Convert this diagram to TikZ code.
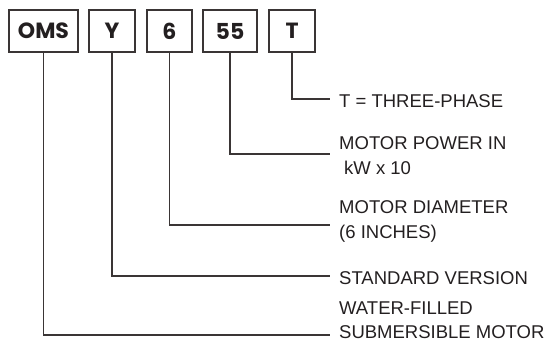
\documentclass[tikz,border=0pt]{standalone}
\usepackage{fontspec}
\setmainfont{Liberation Sans}
\newfontfamily\boxfont{Poppins}
\definecolor{ink}{HTML}{3A3535}
\definecolor{txt}{HTML}{231F20}
\begin{document}
\begin{tikzpicture}[x=1pt,y=-1pt,
  codebox/.style={draw=ink,line width=1.1pt,minimum height=42pt,inner sep=0pt,
    font=\boxfont\bfseries\fontsize{22}{22}\selectfont,text=txt},
  lbl/.style={anchor=west,align=left,inner sep=0pt,text=txt,
    font=\fontsize{18.5}{24.5}\selectfont},
  conn/.style={draw=ink,line width=1.1pt}]
\useasboundingbox (0,0) rectangle (550,360);
\node[codebox,minimum width=69pt] (oms) at (43.5,31) {OMS};
\node[codebox,minimum width=46pt] (y) at (112,31) {Y};
\node[codebox,minimum width=45pt] (six) at (169.5,31) {6};
\node[codebox,minimum width=54pt] (ff) at (230,31) {55};
\node[codebox,minimum width=46pt] (t) at (292,31) {T};
\coordinate (et) at (330,99);
\coordinate (eff) at (330,154);
\coordinate (esix) at (330,225);
\coordinate (ey) at (330,276);
\coordinate (eoms) at (330,335);
\draw[conn] (t.south) |- (et);
\draw[conn] (ff.south) |- (eff);
\draw[conn] (six.south) |- (esix);
\draw[conn] (y.south) |- (ey);
\draw[conn] (oms.south) |- (eoms);
\node[lbl] (lt) at (339,101) {T = THREE-PHASE};
\node[lbl] (lff) at (339,155.5) {MOTOR POWER IN\\\hspace*{5pt}kW x 10};
\node[lbl] (lsix) at (339,221.5) {MOTOR DIAMETER\\(6 INCHES)};
\node[lbl] (ly) at (339,278) {STANDARD VERSION};
\node[lbl] (loms) at (339,320) {WATER-FILLED\\SUBMERSIBLE MOTOR};
\end{tikzpicture}
\end{document}
